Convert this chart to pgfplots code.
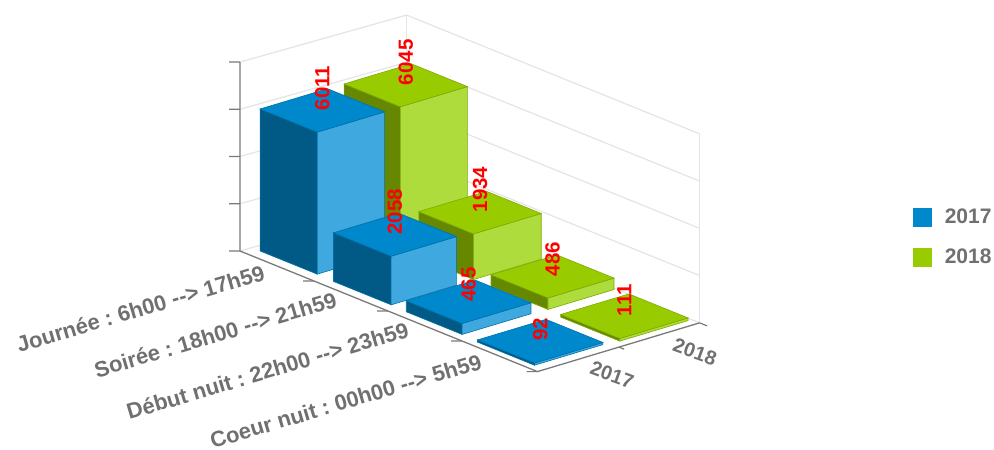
\documentclass[border=0pt]{standalone}
\usepackage{fontspec}
\setmainfont{Liberation Sans}
\usepackage{pgfplots}
\pgfplotsset{compat=1.18}

\definecolor{bluetop}{HTML}{0088CC}
\definecolor{blueleft}{HTML}{005A85}
\definecolor{blueright}{HTML}{3FA9DF}
\definecolor{blueedge}{HTML}{0071A8}
\definecolor{greentop}{HTML}{99CC00}
\definecolor{greenleft}{HTML}{668800}
\definecolor{greenright}{HTML}{ADDC3C}
\definecolor{greenedge}{HTML}{7FAA00}
\definecolor{wallgrid}{HTML}{E4E4E4}
\definecolor{axisgrey}{HTML}{7A7A7A}
\definecolor{labelgrey}{HTML}{707070}

% x0 x1 y0 y1 value colour-prefix
\newcommand{\barbox}[6]{
  \addplot3[forget plot,fill=#6left,draw=#6edge,line width=0.6pt] coordinates {(#1,#3,0) (#2,#3,0) (#2,#3,#5) (#1,#3,#5)} --cycle;
  \addplot3[forget plot,fill=#6right,draw=#6edge,line width=0.6pt] coordinates {(#2,#3,0) (#2,#4,0) (#2,#4,#5) (#2,#3,#5)} --cycle;
  \addplot3[forget plot,fill=#6top,draw=#6edge,line width=0.6pt] coordinates {(#1,#3,#5) (#2,#3,#5) (#2,#4,#5) (#1,#4,#5)} --cycle;
}
\newcommand{\barlabel}[5]{
  \node[rotate=90,anchor=west,inner sep=0pt,text=red,font=\fontsize{20.5}{20.5}\selectfont\bfseries]
    at (axis cs:{(#1+#2)/2},{(#3+#4)/2},#5) {#5};
}
\newcommand{\wallline}[1]{
  \addplot3[forget plot,wallgrid,line width=1.2pt] coordinates {(0,0,#1) (0.06,1.99,#1) (4.02,1.99,#1)};
}
\newcommand{\zticktick}[1]{
  \addplot3[forget plot,axisgrey,line width=1.2pt] coordinates {(-0.063,-0.0775,#1) (0,0,#1)};
}
\newcommand{\catlabel}[3]{
  \node[rotate=16.5,anchor=east,inner sep=0pt,text=labelgrey,font=\frenchspacing\fontsize{22}{22}\selectfont\bfseries]
    at (axis cs:#1,#2,0) {#3};
}

\begin{document}
\begin{tikzpicture}
\path[use as bounding box] (0,0) rectangle (994pt,450pt);
\begin{axis}[
    at={(240pt,199pt)},
    anchor=origin,
    x={(74pt,-30pt)},
    y={(81.5pt,24.5pt)},
    z={(0pt,0.023625pt)},
    xmin=0,xmax=4,ymin=0,ymax=2,zmin=0,zmax=8000,
    hide axis,
    clip=false,
    no marks,
    legend style={
      at={(axis cs:2.966,5.52,0)},
      anchor=north west,
      draw=none,fill=none,
      font=\fontsize{21}{21}\selectfont\bfseries,
      text=labelgrey,
      row sep=20pt,
      legend cell align=left,
    },
  ]
  \addlegendimage{legend image code/.code={\fill[bluetop] (0pt,-9pt) rectangle (18pt,9pt);\path[draw=none] (0pt,0pt) -- (30pt,0pt);}}
  \addlegendentry{2017}
  \addlegendimage{legend image code/.code={\fill[greentop] (0pt,-9pt) rectangle (18pt,9pt);\path[draw=none] (0pt,0pt) -- (30pt,0pt);}}
  \addlegendentry{2018}

  % walls
  \wallline{0}
  \wallline{2000}
  \wallline{4000}
  \wallline{6000}
  \wallline{8000}
  \addplot3[forget plot,wallgrid,line width=1.2pt] coordinates {(0.06,1.99,0) (0.06,1.99,8000)};
  \addplot3[forget plot,wallgrid,line width=1.2pt] coordinates {(4.02,1.99,0) (4.02,1.99,8000)};

  % axes
  \addplot3[forget plot,axisgrey,line width=1.3pt] coordinates {(0,0,8000) (0,0,0) (4.02,0,0) (4.02,1.99,0)};
  \zticktick{0}
  \zticktick{2000}
  \zticktick{4000}
  \zticktick{6000}
  \zticktick{8000}
  \addplot3[forget plot,axisgrey,line width=1.2pt] coordinates {(0.937,-0.0775,0) (1,0,0)};
  \addplot3[forget plot,axisgrey,line width=1.2pt] coordinates {(1.937,-0.0775,0) (2,0,0)};
  \addplot3[forget plot,axisgrey,line width=1.2pt] coordinates {(2.937,-0.0775,0) (3,0,0)};
  \addplot3[forget plot,axisgrey,line width=1.2pt] coordinates {(3.957,-0.0775,0) (4.02,0,0)};
  \addplot3[forget plot,axisgrey,line width=1.2pt] coordinates {(4.02,1,0) (4.09,1,0)};
  \addplot3[forget plot,axisgrey,line width=1.2pt] coordinates {(4.02,1.99,0) (4.12,1.99,0)};

  % bars, back to front
  \barbox{0.135}{0.895}{1.155}{1.978}{6045}{green}
  \barbox{1.15}{1.89}{1.15}{1.98}{1934}{green}
  \barbox{2.12}{2.89}{1.155}{1.965}{486}{green}
  \barbox{3.11}{3.91}{1.11}{1.947}{111}{green}
  \barbox{0.115}{0.887}{0.142}{0.969}{6011}{blue}
  \barbox{1.12}{1.90}{0.13}{0.93}{2058}{blue}
  \barbox{2.12}{2.875}{0.115}{0.96}{465}{blue}
  \barbox{3.11}{3.88}{0.09}{0.93}{92}{blue}

  % value labels
  \barlabel{0.135}{0.895}{1.155}{1.978}{6045}
  \barlabel{1.15}{1.89}{1.15}{1.98}{1934}
  \barlabel{2.12}{2.89}{1.155}{1.965}{486}
  \barlabel{3.11}{3.91}{1.11}{1.947}{111}
  \barlabel{0.115}{0.887}{0.142}{0.969}{6011}
  \barlabel{1.12}{1.90}{0.13}{0.93}{2058}
  \barlabel{2.12}{2.875}{0.115}{0.96}{465}
  \barlabel{3.11}{3.88}{0.09}{0.93}{92}

  % category and series names
  \catlabel{0.54}{-0.196}{Journée : 6h00 -{}-> 17h59}
  \catlabel{1.471}{-0.158}{Soirée : 18h00 -{}-> 21h59}
  \catlabel{2.459}{-0.172}{Début nuit : 22h00 -{}-> 23h59}
  \catlabel{3.492}{-0.214}{Coeur nuit : 00h00 -{}-> 5h59}
  \node[rotate=-20,text=labelgrey,inner sep=0pt,font=\fontsize{20}{20}\selectfont\bfseries] at (axis cs:4.514,0.466,0) {2017};
  \node[rotate=-20,text=labelgrey,inner sep=0pt,font=\fontsize{20}{20}\selectfont\bfseries] at (axis cs:4.551,1.45,0) {2018};
\end{axis}
\end{tikzpicture}
\end{document}
